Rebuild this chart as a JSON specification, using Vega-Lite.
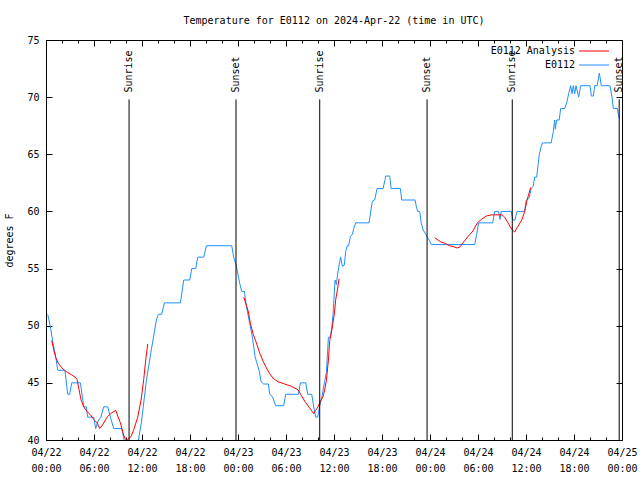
{
"$schema":"https://vega.github.io/schema/vega-lite/v6.json",
"width":576,"height":400,
"autosize":"none",
"padding":{"left":46,"top":40,"right":18,"bottom":40},
"background":"white",
"config":{"font":"DejaVu Sans Mono","view":{"stroke":"black","strokeWidth":1},
 "axis":{"grid":false,"domain":false,"labelFont":"DejaVu Sans Mono","labelFontSize":10,"labelColor":"black","tickColor":"black","tickWidth":1,"titleFont":"DejaVu Sans Mono","titleFontSize":10,"titleFontWeight":"normal","titleColor":"black"}},
"title":{"text":"Temperature for E0112 on 2024-Apr-22 (time in UTC)","fontSize":10,"fontWeight":"normal","font":"DejaVu Sans Mono","color":"black","offset":9},
"datasets":{
"obs":[
{"t":"2024-04-22T00:13Z","v":51.0},{"t":"2024-04-22T00:33Z","v":49.9},{"t":"2024-04-22T00:52Z","v":48.5},{"t":"2024-04-22T01:13Z","v":47.3},{"t":"2024-04-22T01:28Z","v":46.1},{"t":"2024-04-22T02:22Z","v":46.1},{"t":"2024-04-22T02:43Z","v":44.0},{"t":"2024-04-22T02:58Z","v":44.0},{"t":"2024-04-22T03:13Z","v":45.0},{"t":"2024-04-22T04:18Z","v":45.0},{"t":"2024-04-22T04:33Z","v":43.8},{"t":"2024-04-22T04:43Z","v":42.9},{"t":"2024-04-22T05:03Z","v":42.9},{"t":"2024-04-22T05:13Z","v":42.0},{"t":"2024-04-22T05:58Z","v":42.0},{"t":"2024-04-22T06:13Z","v":41.0},{"t":"2024-04-22T06:28Z","v":41.6},{"t":"2024-04-22T06:52Z","v":42.0},{"t":"2024-04-22T07:13Z","v":42.9},{"t":"2024-04-22T07:43Z","v":42.9},{"t":"2024-04-22T08:03Z","v":42.0},{"t":"2024-04-22T08:28Z","v":41.0},{"t":"2024-04-22T09:28Z","v":41.0},{"t":"2024-04-22T09:43Z","v":40.2},{"t":"2024-04-22T09:58Z","v":39.0},{"t":"2024-04-22T11:20Z","v":39.0},{"t":"2024-04-22T11:33Z","v":40.0},{"t":"2024-04-22T11:55Z","v":41.5},{"t":"2024-04-22T12:33Z","v":45.2},{"t":"2024-04-22T13:10Z","v":47.9},{"t":"2024-04-22T13:48Z","v":50.5},{"t":"2024-04-22T14:03Z","v":51.0},{"t":"2024-04-22T14:28Z","v":51.0},{"t":"2024-04-22T14:48Z","v":52.0},{"t":"2024-04-22T16:48Z","v":52.0},{"t":"2024-04-22T17:13Z","v":54.0},{"t":"2024-04-22T17:58Z","v":54.0},{"t":"2024-04-22T18:13Z","v":55.0},{"t":"2024-04-22T18:43Z","v":55.0},{"t":"2024-04-22T18:58Z","v":56.0},{"t":"2024-04-22T19:43Z","v":56.0},{"t":"2024-04-22T20:03Z","v":57.0},{"t":"2024-04-22T23:13Z","v":57.0},{"t":"2024-04-22T23:28Z","v":56.0},{"t":"2024-04-22T23:48Z","v":55.2},
{"t":"2024-04-23T00:13Z","v":53.7},{"t":"2024-04-23T00:28Z","v":53.0},{"t":"2024-04-23T00:48Z","v":53.0},{"t":"2024-04-23T01:03Z","v":51.7},{"t":"2024-04-23T01:28Z","v":50.2},{"t":"2024-04-23T01:48Z","v":49.0},{"t":"2024-04-23T02:08Z","v":47.3},{"t":"2024-04-23T02:20Z","v":46.8},{"t":"2024-04-23T02:38Z","v":46.1},{"t":"2024-04-23T02:53Z","v":45.1},{"t":"2024-04-23T03:13Z","v":44.9},{"t":"2024-04-23T03:48Z","v":44.9},{"t":"2024-04-23T03:58Z","v":44.0},{"t":"2024-04-23T04:18Z","v":43.8},{"t":"2024-04-23T04:43Z","v":43.0},{"t":"2024-04-23T05:43Z","v":43.0},{"t":"2024-04-23T05:58Z","v":44.0},{"t":"2024-04-23T07:33Z","v":44.0},{"t":"2024-04-23T07:48Z","v":45.0},{"t":"2024-04-23T08:28Z","v":45.0},{"t":"2024-04-23T08:43Z","v":44.0},{"t":"2024-04-23T09:13Z","v":44.0},{"t":"2024-04-23T09:28Z","v":42.9},{"t":"2024-04-23T09:43Z","v":42.0},{"t":"2024-04-23T09:58Z","v":42.0},{"t":"2024-04-23T10:13Z","v":43.0},{"t":"2024-04-23T10:28Z","v":43.7},{"t":"2024-04-23T10:48Z","v":45.0},{"t":"2024-04-23T11:03Z","v":45.9},{"t":"2024-04-23T11:18Z","v":49.0},{"t":"2024-04-23T11:33Z","v":49.0},{"t":"2024-04-23T11:43Z","v":49.8},{"t":"2024-04-23T11:53Z","v":51.0},{"t":"2024-04-23T12:08Z","v":54.0},{"t":"2024-04-23T12:18Z","v":53.6},{"t":"2024-04-23T12:28Z","v":54.6},{"t":"2024-04-23T12:38Z","v":55.3},{"t":"2024-04-23T12:50Z","v":56.0},{"t":"2024-04-23T13:03Z","v":55.2},{"t":"2024-04-23T13:17Z","v":55.3},{"t":"2024-04-23T13:28Z","v":56.5},{"t":"2024-04-23T13:39Z","v":57.0},{"t":"2024-04-23T13:50Z","v":57.0},{"t":"2024-04-23T14:03Z","v":57.8},{"t":"2024-04-23T14:18Z","v":58.0},{"t":"2024-04-23T14:28Z","v":58.5},{"t":"2024-04-23T14:43Z","v":59.0},{"t":"2024-04-23T16:23Z","v":59.0},{"t":"2024-04-23T16:38Z","v":60.2},{"t":"2024-04-23T16:48Z","v":60.9},{"t":"2024-04-23T17:05Z","v":61.0},{"t":"2024-04-23T17:23Z","v":62.0},{"t":"2024-04-23T18:08Z","v":62.0},{"t":"2024-04-23T18:23Z","v":62.8},{"t":"2024-04-23T18:28Z","v":63.1},{"t":"2024-04-23T18:58Z","v":63.1},{"t":"2024-04-23T19:08Z","v":62.0},{"t":"2024-04-23T20:18Z","v":62.0},{"t":"2024-04-23T20:28Z","v":61.0},{"t":"2024-04-23T22:08Z","v":61.0},{"t":"2024-04-23T22:18Z","v":60.4},{"t":"2024-04-23T22:28Z","v":60.0},{"t":"2024-04-23T22:43Z","v":60.0},{"t":"2024-04-23T22:54Z","v":59.0},{"t":"2024-04-23T23:08Z","v":58.4},{"t":"2024-04-23T23:28Z","v":58.0},{"t":"2024-04-23T23:43Z","v":57.7},{"t":"2024-04-23T23:58Z","v":57.4},
{"t":"2024-04-24T00:10Z","v":57.1},{"t":"2024-04-24T05:35Z","v":57.1},{"t":"2024-04-24T05:50Z","v":58.0},{"t":"2024-04-24T06:05Z","v":59.0},{"t":"2024-04-24T07:50Z","v":59.0},{"t":"2024-04-24T08:05Z","v":60.0},{"t":"2024-04-24T08:35Z","v":60.0},{"t":"2024-04-24T08:45Z","v":59.3},{"t":"2024-04-24T08:54Z","v":60.0},{"t":"2024-04-24T10:10Z","v":60.0},{"t":"2024-04-24T10:20Z","v":59.3},{"t":"2024-04-24T10:35Z","v":59.2},{"t":"2024-04-24T10:53Z","v":60.0},{"t":"2024-04-24T11:50Z","v":60.0},{"t":"2024-04-24T12:02Z","v":61.0},{"t":"2024-04-24T12:24Z","v":61.2},{"t":"2024-04-24T12:39Z","v":62.0},{"t":"2024-04-24T12:54Z","v":62.2},{"t":"2024-04-24T13:05Z","v":63.0},{"t":"2024-04-24T13:20Z","v":63.0},{"t":"2024-04-24T13:30Z","v":64.0},{"t":"2024-04-24T13:40Z","v":65.0},{"t":"2024-04-24T13:54Z","v":65.7},{"t":"2024-04-24T14:05Z","v":66.0},{"t":"2024-04-24T15:09Z","v":66.0},{"t":"2024-04-24T15:25Z","v":67.0},{"t":"2024-04-24T15:35Z","v":68.0},{"t":"2024-04-24T15:40Z","v":67.2},{"t":"2024-04-24T15:50Z","v":68.0},{"t":"2024-04-24T16:09Z","v":68.0},{"t":"2024-04-24T16:20Z","v":69.0},{"t":"2024-04-24T16:50Z","v":69.0},{"t":"2024-04-24T17:05Z","v":69.5},{"t":"2024-04-24T17:20Z","v":70.3},{"t":"2024-04-24T17:35Z","v":71.0},{"t":"2024-04-24T17:45Z","v":70.3},{"t":"2024-04-24T17:55Z","v":71.0},{"t":"2024-04-24T18:05Z","v":70.3},{"t":"2024-04-24T18:15Z","v":71.0},{"t":"2024-04-24T18:35Z","v":70.0},{"t":"2024-04-24T18:50Z","v":71.0},{"t":"2024-04-24T20:00Z","v":71.0},{"t":"2024-04-24T20:10Z","v":70.1},{"t":"2024-04-24T20:25Z","v":70.1},{"t":"2024-04-24T20:35Z","v":71.0},{"t":"2024-04-24T20:54Z","v":71.0},{"t":"2024-04-24T21:10Z","v":72.1},{"t":"2024-04-24T21:25Z","v":71.0},{"t":"2024-04-24T22:30Z","v":71.0},{"t":"2024-04-24T22:45Z","v":70.0},{"t":"2024-04-24T22:55Z","v":69.0},{"t":"2024-04-24T23:25Z","v":69.0},{"t":"2024-04-24T23:40Z","v":68.1}
],
"ana":[
{"t":"2024-04-22T00:43Z","v":48.7,"s":1},{"t":"2024-04-22T00:58Z","v":47.9,"s":1},{"t":"2024-04-22T01:13Z","v":47.2,"s":1},{"t":"2024-04-22T01:33Z","v":46.7,"s":1},{"t":"2024-04-22T01:53Z","v":46.4,"s":1},{"t":"2024-04-22T02:18Z","v":46.1,"s":1},{"t":"2024-04-22T02:43Z","v":45.9,"s":1},{"t":"2024-04-22T03:13Z","v":45.7,"s":1},{"t":"2024-04-22T03:38Z","v":45.5,"s":1},{"t":"2024-04-22T03:53Z","v":45.3,"s":1},{"t":"2024-04-22T04:08Z","v":44.4,"s":1},{"t":"2024-04-22T04:23Z","v":43.5,"s":1},{"t":"2024-04-22T04:43Z","v":42.9,"s":1},{"t":"2024-04-22T05:08Z","v":42.5,"s":1},{"t":"2024-04-22T05:33Z","v":42.2,"s":1},{"t":"2024-04-22T05:58Z","v":41.8,"s":1},{"t":"2024-04-22T06:23Z","v":41.5,"s":1},{"t":"2024-04-22T06:43Z","v":41.0,"s":1},{"t":"2024-04-22T07:03Z","v":41.3,"s":1},{"t":"2024-04-22T07:38Z","v":42.0,"s":1},{"t":"2024-04-22T08:03Z","v":42.3,"s":1},{"t":"2024-04-22T08:43Z","v":42.6,"s":1},{"t":"2024-04-22T08:58Z","v":42.1,"s":1},{"t":"2024-04-22T09:18Z","v":41.5,"s":1},{"t":"2024-04-22T09:38Z","v":40.6,"s":1},{"t":"2024-04-22T09:53Z","v":40.1,"s":1},{"t":"2024-04-22T10:08Z","v":40.0,"s":1},{"t":"2024-04-22T10:38Z","v":40.3,"s":1},{"t":"2024-04-22T10:58Z","v":40.9,"s":1},{"t":"2024-04-22T11:28Z","v":42.0,"s":1},{"t":"2024-04-22T11:53Z","v":43.5,"s":1},{"t":"2024-04-22T12:13Z","v":45.3,"s":1},{"t":"2024-04-22T12:28Z","v":47.0,"s":1},{"t":"2024-04-22T12:43Z","v":48.4,"s":1},
{"t":"2024-04-23T00:43Z","v":52.5,"s":2},{"t":"2024-04-23T01:03Z","v":51.8,"s":2},{"t":"2024-04-23T01:18Z","v":51.2,"s":2},{"t":"2024-04-23T01:33Z","v":50.2,"s":2},{"t":"2024-04-23T01:53Z","v":49.3,"s":2},{"t":"2024-04-23T02:18Z","v":48.5,"s":2},{"t":"2024-04-23T02:43Z","v":47.6,"s":2},{"t":"2024-04-23T03:08Z","v":46.9,"s":2},{"t":"2024-04-23T03:33Z","v":46.3,"s":2},{"t":"2024-04-23T03:58Z","v":45.8,"s":2},{"t":"2024-04-23T04:23Z","v":45.4,"s":2},{"t":"2024-04-23T05:00Z","v":45.1,"s":2},{"t":"2024-04-23T05:50Z","v":44.9,"s":2},{"t":"2024-04-23T06:40Z","v":44.7,"s":2},{"t":"2024-04-23T07:30Z","v":44.4,"s":2},{"t":"2024-04-23T07:55Z","v":43.9,"s":2},{"t":"2024-04-23T08:20Z","v":43.4,"s":2},{"t":"2024-04-23T08:58Z","v":42.8,"s":2},{"t":"2024-04-23T09:28Z","v":42.3,"s":2},{"t":"2024-04-23T09:43Z","v":42.6,"s":2},{"t":"2024-04-23T10:00Z","v":42.9,"s":2},{"t":"2024-04-23T10:18Z","v":43.4,"s":2},{"t":"2024-04-23T10:38Z","v":43.8,"s":2},{"t":"2024-04-23T10:50Z","v":44.4,"s":2},{"t":"2024-04-23T11:03Z","v":45.2,"s":2},{"t":"2024-04-23T11:18Z","v":47.0,"s":2},{"t":"2024-04-23T11:28Z","v":48.7,"s":2},{"t":"2024-04-23T11:48Z","v":49.9,"s":2},{"t":"2024-04-23T12:03Z","v":51.1,"s":2},{"t":"2024-04-23T12:13Z","v":52.3,"s":2},{"t":"2024-04-23T12:28Z","v":53.3,"s":2},{"t":"2024-04-23T12:38Z","v":54.1,"s":2},
{"t":"2024-04-24T00:35Z","v":57.7,"s":3},{"t":"2024-04-24T01:00Z","v":57.5,"s":3},{"t":"2024-04-24T01:25Z","v":57.3,"s":3},{"t":"2024-04-24T01:55Z","v":57.2,"s":3},{"t":"2024-04-24T02:25Z","v":57.0,"s":3},{"t":"2024-04-24T03:00Z","v":56.9,"s":3},{"t":"2024-04-24T03:25Z","v":56.8,"s":3},{"t":"2024-04-24T03:45Z","v":56.9,"s":3},{"t":"2024-04-24T04:10Z","v":57.3,"s":3},{"t":"2024-04-24T04:45Z","v":57.8,"s":3},{"t":"2024-04-24T05:23Z","v":58.3,"s":3},{"t":"2024-04-24T05:55Z","v":59.0,"s":3},{"t":"2024-04-24T06:25Z","v":59.3,"s":3},{"t":"2024-04-24T07:03Z","v":59.6,"s":3},{"t":"2024-04-24T07:40Z","v":59.7,"s":3},{"t":"2024-04-24T08:05Z","v":59.7,"s":3},{"t":"2024-04-24T09:00Z","v":59.7,"s":3},{"t":"2024-04-24T09:20Z","v":59.5,"s":3},{"t":"2024-04-24T09:45Z","v":59.0,"s":3},{"t":"2024-04-24T10:15Z","v":58.4,"s":3},{"t":"2024-04-24T10:35Z","v":58.2,"s":3},{"t":"2024-04-24T11:00Z","v":58.7,"s":3},{"t":"2024-04-24T11:30Z","v":59.3,"s":3},{"t":"2024-04-24T11:50Z","v":60.0,"s":3},{"t":"2024-04-24T12:08Z","v":61.0,"s":3},{"t":"2024-04-24T12:23Z","v":61.6,"s":3},{"t":"2024-04-24T12:35Z","v":62.1,"s":3}
],
"sun":[
{"t":"2024-04-22T10:23Z","label":"Sunrise"},{"t":"2024-04-22T23:45Z","label":"Sunset"},{"t":"2024-04-23T10:13Z","label":"Sunrise"},{"t":"2024-04-23T23:38Z","label":"Sunset"},{"t":"2024-04-24T10:17Z","label":"Sunrise"},{"t":"2024-04-24T23:39Z","label":"Sunset"}
]
},
"layer":[
{"data":{"name":"obs"},"mark":{"type":"line","clip":true,"strokeWidth":1},
 "encoding":{
  "x":{"field":"t","type":"temporal","scale":{"type":"utc","domain":[1713744000000,1714003200000]},
   "axis":{"orient":"bottom","values":[1713744000000,1713765600000,1713787200000,1713808800000,1713830400000,1713852000000,1713873600000,1713895200000,1713916800000,1713938400000,1713960000000,1713981600000,1714003200000],
   "labelExpr":"[utcFormat(datum.value,'%m/%d'), utcFormat(datum.value,'%H:%M')]","ticks":false,"labelPadding":7,"labelLineHeight":16,"labelBaseline":"top","labelAlign":"center","labelFlush":false,"labelOverlap":false,"title":null}},
  "y":{"field":"v","type":"quantitative","scale":{"domain":[40,75],"nice":false,"zero":false},
   "axis":{"orient":"left","values":[40,45,50,55,60,65,70,75],"ticks":false,"labelPadding":7,"title":"degrees F","titlePadding":12}},
  "color":{"datum":"E0112","type":"nominal","scale":{"domain":["E0112 Analysis","E0112"],"range":["#ff0000","#1e90ff"]},
   "legend":{"orient":"none","legendX":543,"legendY":6,"title":null,"symbolType":"M-5,0L5,0","symbolSize":36,"symbolStrokeWidth":1,"labelAlign":"right","labelOffset":-24,"labelFont":"DejaVu Sans Mono","labelFontSize":10,"labelColor":"black","rowPadding":4,"padding":0}}
 }},
{"data":{"name":"ana"},"mark":{"type":"line","clip":true,"strokeWidth":1},
 "encoding":{
  "x":{"field":"t","type":"temporal","axis":{"orient":"top","values":[1713744000000,1713765600000,1713787200000,1713808800000,1713830400000,1713852000000,1713873600000,1713895200000,1713916800000,1713938400000,1713960000000,1713981600000,1714003200000],"labels":false,"tickSize":-6,"title":null}},
  "y":{"field":"v","type":"quantitative","axis":{"orient":"right","values":[40,45,50,55,60,65,70,75],"labels":false,"tickSize":-6,"title":null}},
  "detail":{"field":"s"},
  "color":{"datum":"E0112 Analysis","type":"nominal"}
 }},
{"data":{"name":"sun"},"mark":{"type":"rule","color":"black","strokeWidth":1},
 "encoding":{
  "x":{"field":"t","type":"temporal","axis":{"orient":"bottom","values":[1713744000000,1713765600000,1713787200000,1713808800000,1713830400000,1713852000000,1713873600000,1713895200000,1713916800000,1713938400000,1713960000000,1713981600000,1714003200000],"labels":false,"tickSize":-6,"title":null}},
  "y":{"datum":69.8,"type":"quantitative","axis":{"orient":"left","values":[40,45,50,55,60,65,70,75],"labels":false,"tickSize":-6,"title":null}},
  "y2":{"datum":40}
 }},
{"data":{"name":"sun"},"mark":{"type":"text","angle":270,"align":"left","baseline":"middle","font":"DejaVu Sans Mono","fontSize":10,"color":"black"},
 "encoding":{
  "x":{"field":"t","type":"temporal","axis":{"orient":"top","values":[1713751200000,1713758400000,1713772800000,1713780000000,1713794400000,1713801600000,1713816000000,1713823200000,1713837600000,1713844800000,1713859200000,1713866400000,1713880800000,1713888000000,1713902400000,1713909600000,1713924000000,1713931200000,1713945600000,1713952800000,1713967200000,1713974400000,1713988800000,1713996000000],"labels":false,"tickSize":-3,"title":null}},
  "y":{"datum":70.4,"type":"quantitative","axis":null},
  "text":{"field":"label"}
 }},
{"data":{"name":"sun"},"mark":{"type":"point","opacity":0},
 "encoding":{
  "x":{"field":"t","type":"temporal","axis":{"orient":"bottom","values":[1713751200000,1713758400000,1713772800000,1713780000000,1713794400000,1713801600000,1713816000000,1713823200000,1713837600000,1713844800000,1713859200000,1713866400000,1713880800000,1713888000000,1713902400000,1713909600000,1713924000000,1713931200000,1713945600000,1713952800000,1713967200000,1713974400000,1713988800000,1713996000000],"labels":false,"tickSize":-3,"title":null}},
  "y":{"datum":60,"type":"quantitative","axis":null}
 }}
],
"resolve":{"axis":{"x":"independent","y":"independent"}}
}
